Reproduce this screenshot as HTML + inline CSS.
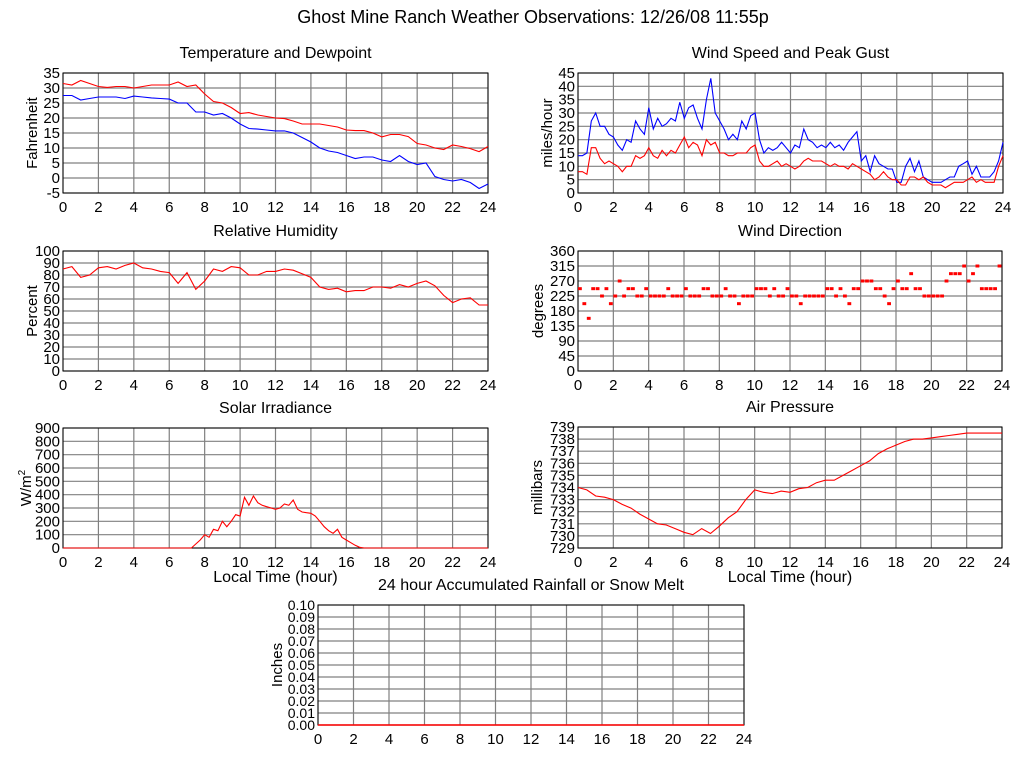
<!DOCTYPE html>
<html><head><meta charset="utf-8"><style>
html,body{margin:0;padding:0;background:#fff;width:1024px;height:768px;overflow:hidden}
svg{display:block}
text{font-family:"Liberation Sans",sans-serif;fill:#000}
</style></head><body>
<svg id="root" width="1024" height="768">
<text x="533" y="23" font-size="18" text-anchor="middle">Ghost Mine Ranch Weather Observations: 12/26/08 11:55p</text>
</svg>
<script>
// ---- data (series are evenly spaced over 0..24 hours) ----
const hourTicks = [0,2,4,6,8,10,12,14,16,18,20,22,24];
const tempTicks = [-5,0,5,10,15,20,25,30,35];
const windTicks = [0,5,10,15,20,25,30,35,40,45];
const rhTicks = [0,10,20,30,40,50,60,70,80,90,100];
const dirTicks = [0,45,90,135,180,225,270,315,360];
const solarTicks = [0,100,200,300,400,500,600,700,800,900];
const presTicks = [729,730,731,732,733,734,735,736,737,738,739];
const rainTicks = ["0.00","0.01","0.02","0.03","0.04","0.05","0.06","0.07","0.08","0.09","0.10"];

const temperature = [31.5,31,32.5,31.5, 30.5,30.2,30.5,30.5, 30,30.5,31,31, 31,32,30.5,31, 28,25.5,25,23.5,
  21.5,21.8,21,20.5, 20,19.8,19,18, 18,18,17.5,17, 16,15.8,15.8,15, 13.7,14.5,14.5,13.8, 11.5,11,10,9.5, 11,10.5,9.8,8.8, 10.5];
const dewpoint = [27.5,27.5,26,26.5, 27,27,27,26.5, 27.3,27,26.7,26.5, 26.3,25,25,22, 22,21,21.5,20,
  18,16.5,16.3,16, 15.7,15.7,15,13.5, 12,10,9,8.5, 7.5,6.5,7,7, 6,5.5,7.5,5.5, 4.5,5,0.5,-0.5, -1,-0.5,-1.5,-3.5, -2];
const gust = [14,14,15,27,30,25,25,22,21, 18,16,20,19,27,24,22,32, 24,28,25,26,28,27,34,28,
  32,33,28,24,35,43,30,27, 24,20,22,20,27,24,29,30, 20,15,17,16,17,19,17,15, 18,17,24,20,19,17,18,17,
  19,17,18,16,19,21,23,12, 14,8,14,11,10,9,9,4, 4,10,13,8,12,6,5,4, 4,4,5,6,6,10,11,12, 7,10,6,6,6,8,12,19];
const speed = [8,8,7,17,17,13,11,12,11, 10,8,10,10,14,13,14,17, 14,13,16,14,16,15,18,21,
  17,19,18,14,20,18,19,15, 15,14,14,15,15,15,17,18, 12,10,10,11,12,10,11,10, 9,10,12,13,12,12,12,11,
  10,11,10,10,9,11,10,9, 8,7,5,6,8,6,5,5, 3,3,6,6,5,6,4,3, 3,3,2,3,4,4,4,5, 6,4,5,4,4,4,10,14];
const humidity = [85,87,78,80, 86,87,85,88, 90,86,85,83, 82,73,82,68, 75,85,83,87, 86,80,80,83,
  83,85,84,81, 78,70,68,69, 66,67,67,70, 70,69,72,70, 73,75,71,63, 57,60,61,55, 55];
// direction sampled each quarter hour (96 samples, each spans 15 min)
const direction = [247,202,158,247,247,225,247,202, 225,270,225,247,247,225,225,247,
  225,225,225,225,247,225,225,225, 247,225,225,225,247,247,225,225,
  225,247,225,225,202,225,225,225, 247,247,247,225,247,225,225,247,
  225,225,202,225,225,225,225,225, 247,247,225,247,225,202,247,247,
  270,270,270,247,247,225,202,247, 270,247,247,292,247,247,225,225,
  225,225,225,270,292,292,292,315, 270,292,315,247,247,247,247,315];
const solar = [0,0,0,0,0,0,0,0,0,0,0,0,0,0,0,0,0,0,0,0,0,0,0,0,0,0,0,0,0,
  0,30,60,100,80,140,130,200,160,200,250,240,380,320,390,340,320,310,300,290,300,330,320,360,
  290,270,265,260,240,200,160,130,110,140,80,60,40,20,5,0,
  0,0,0,0,0,0,0,0,0,0,0,0,0,0,0,0,0,0,0,0,0,0,0,0,0,0,0,0];
const pressure = [734,733.8,733.3,733.2, 733,732.6,732.3,731.8, 731.4,731,730.9,730.6,
  730.3,730.1,730.6,730.2, 730.8,731.5,732,733, 733.8,733.6,733.5,733.7, 733.6,733.9,734,734.4,
  734.6,734.6,735,735.4, 735.8,736.2,736.8,737.2, 737.5,737.8,738,738, 738.1,738.2,738.3,738.4,
  738.5,738.5,738.5,738.5, 738.5];
const rainfall = [0,0,0,0,0,0,0,0,0,0,0,0,0,0,0,0,0,0,0,0,0,0,0,0,0];

const NS = "http://www.w3.org/2000/svg";
const root = document.getElementById('root');
function mk(tag, attrs, parent){const e=document.createElementNS(NS,tag);for(const k in attrs)e.setAttribute(k,attrs[k]);(parent||root).appendChild(e);return e;}

function chart(c){
  const g = mk('g',{});
  
  
  const W=c.x1-c.x0, H=c.y1-c.y0;
  const xs = h => c.x0 + h/24*W;
  const ys = v => c.y1 - (v - c.ymin)/(c.ymax-c.ymin)*H;
  const t = mk('text',{x:(c.x0+c.x1)/2,y:c.y0-15,'font-size':16,'text-anchor':'middle'},g);
  t.textContent=c.title;
  
  
  c.yticks.forEach(v=>{
    const y=ys(+v);
    mk('line',{x1:c.x0,x2:c.x1,y1:y,y2:y,stroke:'#808080','stroke-width':1.2},g);
    const lb=mk('text',{x:c.x0-3,y:y+5,'font-size':c.yfs||15,'text-anchor':'end'},g);
    lb.textContent=v;
    
    
  });
  hourTicks.forEach(h=>{
    const x=xs(h);
    mk('line',{x1:x,x2:x,y1:c.y0,y2:c.y1,stroke:'#808080','stroke-width':1.2},g);
    const lb=mk('text',{x:x,y:c.y1+19,'font-size':15,'text-anchor':'middle'},g);
    lb.textContent=h;
    
    
  });
  mk('rect',{x:c.x0,y:c.y0,width:W,height:H,fill:'none',stroke:'#000','stroke-width':1},g);
  const yt=mk('text',{transform:`translate(${c.ytx},${(c.y0+c.y1)/2}) rotate(-90)`,'font-size':15,'text-anchor':'middle'},g);
  if(c.sup){yt.textContent=c.ytitle;const s=mk('tspan',{dy:-6,'font-size':10},yt);s.textContent='2';}
  else yt.textContent=c.ytitle;
  
  
  if(c.xtitle){
    const xt=mk('text',{x:(c.x0+c.x1)/2,y:c.y1+34,'font-size':16,'text-anchor':'middle'},g);
    xt.textContent=c.xtitle;
    
    
  }
  (c.series||[]).forEach(s=>{
    const n=s.data.length;
    const pts=s.data.map((v,i)=>xs(i*24/(n-1)).toFixed(1)+','+ys(v).toFixed(1)).join(' ');
    const pl=mk('polyline',{points:pts,fill:'none',stroke:s.color,'stroke-width':s.w||1.1},g);
    
    
  });
  if(c.dots){
    const n=c.dots.length;
    c.dots.forEach((v,i)=>{
      const xa=xs(i*24/n), xb=xs((i+1)*24/n);
      const r=mk('rect',{x:xa,y:ys(v)-1.5,width:xb-xa-0.6,height:3,fill:'#f00'},g);
      
      
    });
  }
}

chart({name:'temperature-chart',title:'Temperature and Dewpoint',x0:63,x1:488,y0:73,y1:193,ymin:-5,ymax:35,yticks:tempTicks,ytitle:'Fahrenheit',ytx:37,
  series:[{name:'temperature-line',data:temperature,color:'#f00'},{name:'dewpoint-line',data:dewpoint,color:'#00f'}]});
chart({name:'wind-speed-chart',title:'Wind Speed and Peak Gust',x0:578,x1:1003,y0:73,y1:193,ymin:0,ymax:45,yticks:windTicks,ytitle:'miles/hour',ytx:552,
  series:[{name:'gust-line',data:gust,color:'#00f'},{name:'speed-line',data:speed,color:'#f00'}]});
chart({name:'humidity-chart',title:'Relative Humidity',x0:63,x1:488,y0:251,y1:371,ymin:0,ymax:100,yticks:rhTicks,ytitle:'Percent',ytx:37,
  series:[{name:'humidity-line',data:humidity,color:'#f00'}]});
chart({name:'wind-direction-chart',title:'Wind Direction',x0:578,x1:1002,y0:251,y1:371,ymin:0,ymax:360,yticks:dirTicks,ytitle:'degrees',ytx:543,dots:direction});
chart({name:'solar-chart',title:'Solar Irradiance',x0:63,x1:488,y0:428,y1:548,ymin:0,ymax:900,yticks:solarTicks,ytitle:'W/m',sup:true,ytx:31,xtitle:'Local Time (hour)',
  series:[{name:'solar-line',data:solar,color:'#f00'}]});
chart({name:'pressure-chart',title:'Air Pressure',x0:578,x1:1002,y0:427,y1:548,ymin:729,ymax:739,yticks:presTicks,ytitle:'millibars',ytx:542,xtitle:'Local Time (hour)',
  series:[{name:'pressure-line',data:pressure,color:'#f00'}]});
chart({name:'rainfall-chart',title:'24 hour Accumulated Rainfall or Snow Melt',x0:318,x1:744,y0:605,y1:725,ymin:0,ymax:0.1,yticks:rainTicks,ytitle:'Inches',ytx:282,yfs:14,
  series:[{name:'rainfall-line',data:rainfall,color:'#f00',w:1.6}]});
</script>
</body></html>
